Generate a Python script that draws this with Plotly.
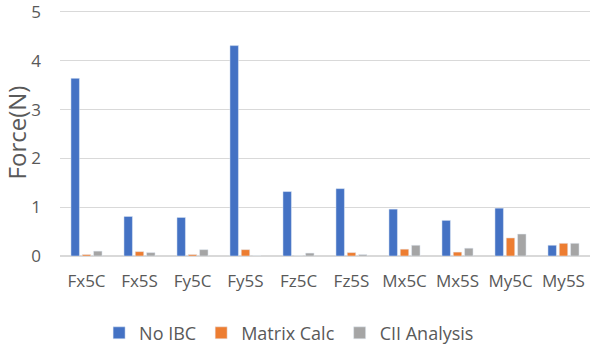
import plotly.graph_objects as go

categories = ["Fx5C", "Fx5S", "Fy5C", "Fy5S", "Fz5C", "Fz5S", "Mx5C", "Mx5S", "My5C", "My5S"]
no_ibc = [3.64, 0.81, 0.79, 4.31, 1.32, 1.38, 0.96, 0.73, 0.98, 0.22]
matrix_calc = [0.03, 0.09, 0.03, 0.13, 0.0, 0.07, 0.14, 0.08, 0.37, 0.26]
cii_analysis = [0.10, 0.07, 0.13, 0.0, 0.06, 0.03, 0.22, 0.16, 0.45, 0.26]
y_ticks = [0, 1, 2, 3, 4, 5]

fig = go.Figure()
fig.add_bar(x=categories, y=no_ibc, name="No IBC", marker_color="#4472C4")
fig.add_bar(x=categories, y=matrix_calc, name="Matrix Calc", marker_color="#ED7D31")
fig.add_bar(x=categories, y=cii_analysis, name="CII Analysis", marker_color="#A5A5A5")

fig.update_layout(
    width=590, height=347,
    margin=dict(l=60, r=0, t=9, b=91, autoexpand=False),
    paper_bgcolor="white", plot_bgcolor="white",
    barmode="group", bargap=0.36, bargroupgap=0.25,
    font=dict(family="Open Sans", color="#595959"),
    legend=dict(orientation="h", x=0.49, xanchor="center", xref="container",
                y=0.04, yanchor="middle", yref="container",
                font=dict(size=18), itemwidth=30, traceorder="normal"),
    showlegend=True,
)
fig.update_xaxes(tickfont=dict(size=17), showline=False, showgrid=False, ticks="",
                 ticklabelstandoff=13)
fig.update_yaxes(range=[0, 5.06], tickvals=y_ticks, tickfont=dict(size=17),
                 gridcolor="#D9D9D9", gridwidth=1, zeroline=True, zerolinecolor="#D9D9D9",
                 title=dict(text="Force(N)", font=dict(size=24), standoff=4), ticks="",
                 ticklabelstandoff=18, ticklabeloverflow="allow")

fig.write_html("out.html")
